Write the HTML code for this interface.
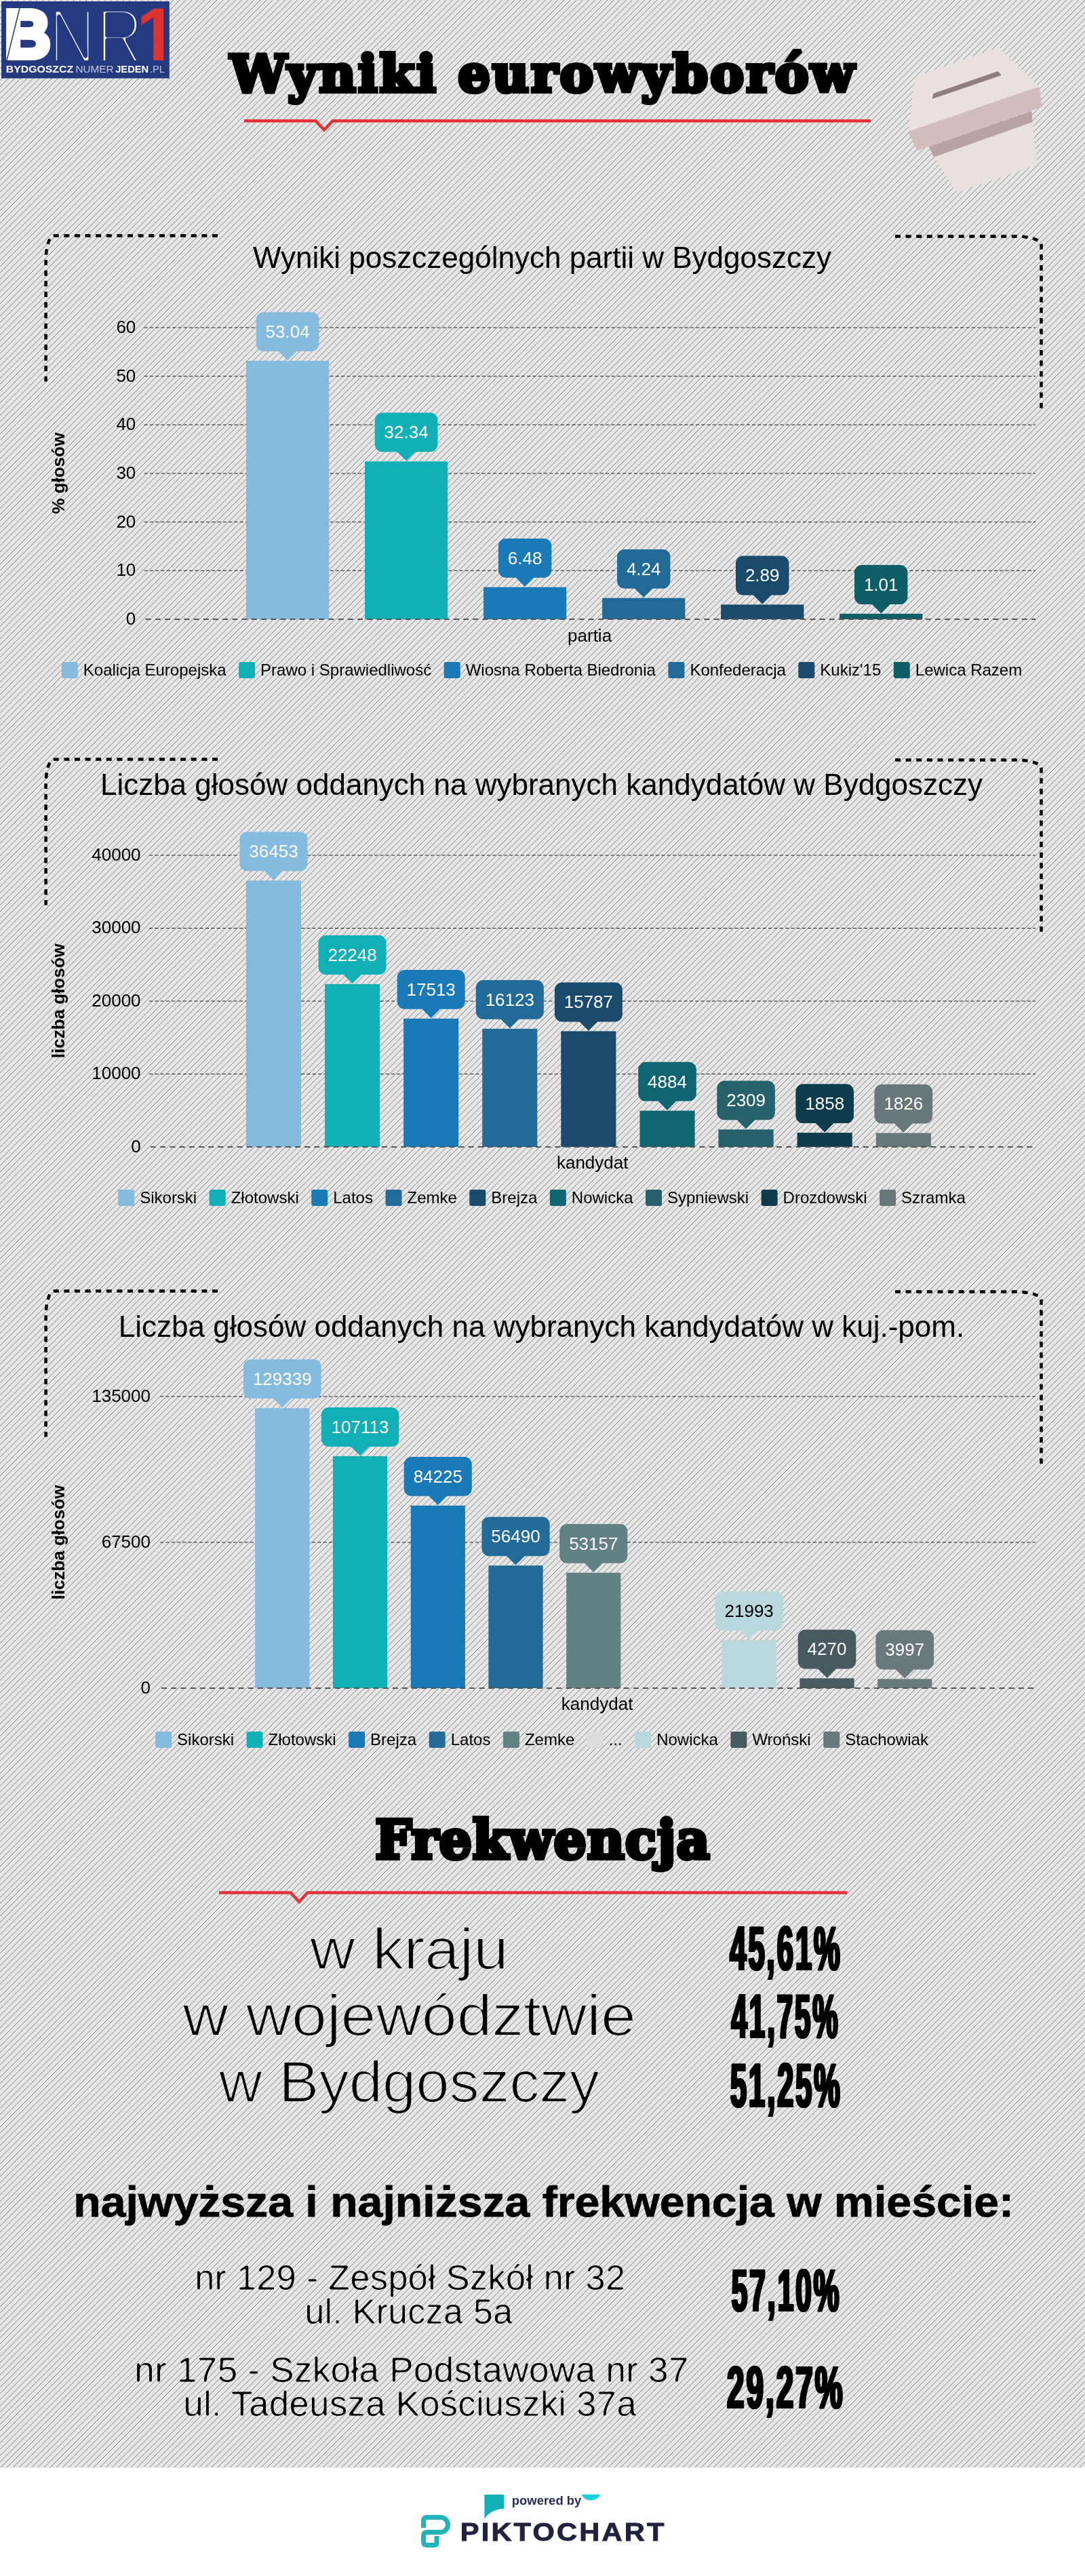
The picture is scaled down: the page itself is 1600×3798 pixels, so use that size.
<!DOCTYPE html>
<html lang="pl">
<head>
<meta charset="utf-8">
<title>Wyniki eurowyborów</title>
<style>
html,body{margin:0;padding:0;background:#fff;}
#page{position:relative;width:1600px;height:3798px;overflow:hidden;background:#e6e6e6;font-family:'Liberation Sans', sans-serif;}
svg{position:absolute;left:0;top:0;will-change:transform;}
svg text{font-family:'Liberation Sans', sans-serif;}
.slab{font-family:'DejaVu Serif', 'Liberation Serif', serif;font-weight:bold;}
.br{fill:none;stroke:#000;stroke-width:4.5;stroke-dasharray:8 7.62;}
.gl{fill:none;stroke:#222;stroke-width:1;stroke-dasharray:5.2 3.1;}
.zl{fill:none;stroke:#555;stroke-width:2;stroke-dasharray:8 6.2;}
</style>
</head>
<body>
<div id="page">
<svg width="1600" height="3798" viewBox="0 0 1600 3798">
<defs>
<pattern id="stripes" width="64" height="64" patternUnits="userSpaceOnUse">
<rect width="64" height="64" fill="#e6e6e6"/>
<path d="M2.000,-2 L-2,2.000 M11.143,-2 L-2,11.143 M20.286,-2 L-2,20.286 M29.429,-2 L-2,29.429 M38.571,-2 L-2,38.571 M47.714,-2 L-2,47.714 M56.857,-2 L-2,56.857 M66.000,-2 L-2,66.000 M75.143,-2 L-2,75.143 M84.286,-2 L-2,84.286 M93.429,-2 L-2,93.429 M102.571,-2 L-2,102.571 M111.714,-2 L-2,111.714 M120.857,-2 L-2,120.857 M130.000,-2 L-2,130.000" stroke="#505050" stroke-width="0.68" fill="none"/>
</pattern>
<filter id="fat" x="-5%" y="-5%" width="110%" height="110%">
<feOffset in="SourceGraphic" dx="-1.25" dy="0" result="a"/>
<feOffset in="SourceGraphic" dx="1.25" dy="0" result="b"/>
<feMerge><feMergeNode in="a"/><feMergeNode in="b"/><feMergeNode in="SourceGraphic"/></feMerge>
</filter>
<filter id="thin" x="-2%" y="-10%" width="104%" height="120%"><feMorphology operator="erode" radius="1"/></filter>
<filter id="t3" x="-2%" y="-10%" width="104%" height="120%"><feGaussianBlur stdDeviation="0.9"/><feComponentTransfer><feFuncA type="linear" slope="4" intercept="-2.1"/></feComponentTransfer></filter>
<clipPath id="oneclip"><polygon points="200,0 241.3,0 241.3,120 226.2,120 226.2,60 200,60"/></clipPath>
</defs>
<rect width="1600" height="3638" fill="url(#stripes)"/>
<rect y="3638" width="1600" height="160" fill="#fff"/>

<!-- logo -->
<g id="logo">
<rect x="2" y="2" width="247.8" height="113.5" fill="#24397f"/>
<text transform="translate(6.6,85.3) scale(0.945,1)" font-size="100" font-weight="bold" fill="#fff" stroke="#fff" stroke-width="8" stroke-linejoin="miter">B</text>
<path d="M30.5,6 L9.5,91" stroke="#24397f" stroke-width="1.5" fill="none"/>
<text x="71.5" y="93.2" font-size="114.5" fill="#fff" stroke="#24397f" stroke-width="7.8" stroke-linejoin="round" textLength="140" lengthAdjust="spacingAndGlyphs">NR</text>
<g clip-path="url(#oneclip)"><text transform="translate(201.1,89.4) scale(0.966,1)" font-size="112" font-weight="bold" fill="#de3431">1</text></g>
<text y="106.6" font-size="15" fill="#fff"><tspan x="8.7" font-weight="bold" textLength="99.5" lengthAdjust="spacingAndGlyphs">BYDGOSZCZ</tspan><tspan x="111.5" fill="#c3cae6" textLength="56" lengthAdjust="spacingAndGlyphs">NUMER</tspan><tspan x="170.2" font-weight="bold" textLength="49" lengthAdjust="spacingAndGlyphs">JEDEN</tspan><tspan x="221" fill="#c3cae6" textLength="22" lengthAdjust="spacingAndGlyphs">.PL</tspan></text>
</g>
<!-- title -->
<text x="339.4" y="135.0" class="slab" font-size="74" stroke="#000" stroke-width="6.2" stroke-linejoin="miter" stroke-miterlimit="2.5" letter-spacing="3.5">Wyniki eurowyborów</text>
<path d="M360,178.2 H465.5 L478,191.6 L490.5,178.2 H1284" fill="none" stroke="#e03237" stroke-width="4.4" stroke-linejoin="miter"/>
<!-- ballot box -->
<g id="ballot">
<polygon points="1349.8,113 1472.4,69.7 1532.3,127.7 1338.7,194.3" fill="#eae0e0"/>
<polygon points="1338.7,194.3 1532.3,127.7 1536.9,157.4 1352.9,221.9" fill="#d3bcbc"/>
<polygon points="1369.7,216.3 1521.4,163.4 1522.5,180.6 1377.4,232.3" fill="#b8a2a4"/>
<polygon points="1377.4,231.5 1522.5,180 1529.7,242.6 1411,283.9" fill="#eae0e0"/>
<polygon points="1376.1,138.1 1471.6,105 1476.8,111 1374.8,145.8" fill="#8f7d80"/>
</g>

<!--CHARTS-->
<path class="br" d="M321,347.4 H79.4 A11.8,37 0 0 0 67.6,384.4 V562.4"/>
<path class="br" d="M1320,348.5 H1498.5 A37,12 0 0 1 1535.5,360.5 V601.8"/>
<text x="799.5" y="395" font-size="44" text-anchor="middle">Wyniki poszczególnych partii w Bydgoszczy</text>
<path class="gl" d="M212.6,841.3 H1527"/>
<path class="gl" d="M212.6,769.7 H1527"/>
<path class="gl" d="M212.6,698.0 H1527"/>
<path class="gl" d="M212.6,626.3 H1527"/>
<path class="gl" d="M212.6,554.7 H1527"/>
<path class="gl" d="M212.6,483.0 H1527"/>
<text x="200.3" y="920.8" font-size="26" text-anchor="end">0</text>
<text x="200.3" y="849.1" font-size="26" text-anchor="end">10</text>
<text x="200.3" y="777.5" font-size="26" text-anchor="end">20</text>
<text x="200.3" y="705.8" font-size="26" text-anchor="end">30</text>
<text x="200.3" y="634.1" font-size="26" text-anchor="end">40</text>
<text x="200.3" y="562.5" font-size="26" text-anchor="end">50</text>
<text x="200.3" y="490.8" font-size="26" text-anchor="end">60</text>
<rect x="363.0" y="532.0" width="122.2" height="381.0" fill="#85bbdf"/>
<rect x="538.0" y="680.3" width="122.2" height="232.7" fill="#11b0b7"/>
<rect x="713.0" y="865.7" width="122.2" height="47.3" fill="#1a7ab8"/>
<rect x="888.1" y="881.7" width="122.2" height="31.3" fill="#226a97"/>
<rect x="1063.1" y="891.4" width="122.2" height="21.6" fill="#1a4a6c"/>
<rect x="1238.1" y="904.9" width="122.2" height="8.1" fill="#0e5e68"/>
<path class="zl" d="M214.6,913.0 H1527"/>
<path fill="#85bbdf" d="M388.7,460.2 H459.5 A11,11 0 0 1 470.5,471.2 V507.0 A11,11 0 0 1 459.5,518.0 H437.4 L424.1,531.3 L410.8,518.0 H388.7 A11,11 0 0 1 377.7,507.0 V471.2 A11,11 0 0 1 388.7,460.2 Z"/>
<text x="424.1" y="497.9" font-size="26" text-anchor="middle" fill="#fff">53.04</text>
<path fill="#11b0b7" d="M563.7,608.5 H634.5 A11,11 0 0 1 645.5,619.5 V655.3 A11,11 0 0 1 634.5,666.3 H612.4 L599.1,679.6 L585.8,666.3 H563.7 A11,11 0 0 1 552.7,655.3 V619.5 A11,11 0 0 1 563.7,608.5 Z"/>
<text x="599.1" y="646.2" font-size="26" text-anchor="middle" fill="#fff">32.34</text>
<path fill="#1a7ab8" d="M745.9,793.9 H802.3 A11,11 0 0 1 813.3,804.9 V840.7 A11,11 0 0 1 802.3,851.7 H787.4 L774.1,865.0 L760.8,851.7 H745.9 A11,11 0 0 1 734.9,840.7 V804.9 A11,11 0 0 1 745.9,793.9 Z"/>
<text x="774.1" y="831.6" font-size="26" text-anchor="middle" fill="#fff">6.48</text>
<path fill="#226a97" d="M921.0,809.9 H977.4 A11,11 0 0 1 988.4,820.9 V856.7 A11,11 0 0 1 977.4,867.7 H962.5 L949.2,881.0 L935.9,867.7 H921.0 A11,11 0 0 1 910.0,856.7 V820.9 A11,11 0 0 1 921.0,809.9 Z"/>
<text x="949.2" y="847.6" font-size="26" text-anchor="middle" fill="#fff">4.24</text>
<path fill="#1a4a6c" d="M1096.0,819.6 H1152.4 A11,11 0 0 1 1163.4,830.6 V866.4 A11,11 0 0 1 1152.4,877.4 H1137.5 L1124.2,890.7 L1110.9,877.4 H1096.0 A11,11 0 0 1 1085.0,866.4 V830.6 A11,11 0 0 1 1096.0,819.6 Z"/>
<text x="1124.2" y="857.3" font-size="26" text-anchor="middle" fill="#fff">2.89</text>
<path fill="#0e5e68" d="M1271.0,833.1 H1327.4 A11,11 0 0 1 1338.4,844.1 V879.9 A11,11 0 0 1 1327.4,890.9 H1312.5 L1299.2,904.2 L1285.9,890.9 H1271.0 A11,11 0 0 1 1260.0,879.9 V844.1 A11,11 0 0 1 1271.0,833.1 Z"/>
<text x="1299.2" y="870.8" font-size="26" text-anchor="middle" fill="#fff">1.01</text>
<text transform="translate(94.6,697.8) rotate(-90)" font-size="26" font-weight="bold" text-anchor="middle">% głosów</text>
<text x="869.6" y="945.5" font-size="26" text-anchor="middle">partia</text>
<rect x="90.8" y="976" width="24" height="24" rx="3" fill="#85bbdf"/>
<text x="122.8" y="995.9" font-size="24">Koalicja Europejska</text>
<rect x="352.1" y="976" width="24" height="24" rx="3" fill="#11b0b7"/>
<text x="384.1" y="995.9" font-size="24">Prawo i Sprawiedliwość</text>
<rect x="654.7" y="976" width="24" height="24" rx="3" fill="#1a7ab8"/>
<text x="686.7" y="995.9" font-size="24">Wiosna Roberta Biedronia</text>
<rect x="985.4" y="976" width="24" height="24" rx="3" fill="#226a97"/>
<text x="1017.4" y="995.9" font-size="24">Konfederacja</text>
<rect x="1177.3" y="976" width="24" height="24" rx="3" fill="#1a4a6c"/>
<text x="1209.3" y="995.9" font-size="24">Kukiz'15</text>
<rect x="1317.8" y="976" width="24" height="24" rx="3" fill="#0e5e68"/>
<text x="1349.8" y="995.9" font-size="24">Lewica Razem</text>
<path class="br" d="M321,1119.4 H79.4 A11.8,37 0 0 0 67.6,1156.4 V1334.4"/>
<path class="br" d="M1320,1120.5 H1498.5 A37,12 0 0 1 1535.5,1132.5 V1373.8"/>
<text x="798.5" y="1172" font-size="44" text-anchor="middle">Liczba głosów oddanych na wybranych kandydatów w Bydgoszczy</text>
<path class="gl" d="M220,1583.5 H1527"/>
<path class="gl" d="M220,1476.0 H1527"/>
<path class="gl" d="M220,1368.5 H1527"/>
<path class="gl" d="M220,1261.0 H1527"/>
<text x="207.6" y="1698.8" font-size="26" text-anchor="end">0</text>
<text x="207.6" y="1591.3" font-size="26" text-anchor="end">10000</text>
<text x="207.6" y="1483.8" font-size="26" text-anchor="end">20000</text>
<text x="207.6" y="1376.3" font-size="26" text-anchor="end">30000</text>
<text x="207.6" y="1268.8" font-size="26" text-anchor="end">40000</text>
<rect x="362.9" y="1298.2" width="81.1" height="392.8" fill="#85bbdf"/>
<rect x="479.0" y="1450.9" width="81.1" height="240.1" fill="#11b0b7"/>
<rect x="595.1" y="1501.8" width="81.1" height="189.2" fill="#1a7ab8"/>
<rect x="711.2" y="1516.8" width="81.1" height="174.2" fill="#226a97"/>
<rect x="827.3" y="1520.4" width="81.1" height="170.6" fill="#1a4a6c"/>
<rect x="943.5" y="1637.6" width="81.1" height="53.4" fill="#0f6672"/>
<rect x="1059.5" y="1665.3" width="81.1" height="25.7" fill="#26616c"/>
<rect x="1175.6" y="1670.1" width="81.1" height="20.9" fill="#0e3c4c"/>
<rect x="1291.8" y="1670.5" width="81.1" height="20.5" fill="#68777a"/>
<path class="zl" d="M222,1691.0 H1527"/>
<path fill="#85bbdf" d="M364.5,1226.4 H442.5 A11,11 0 0 1 453.5,1237.4 V1273.2 A11,11 0 0 1 442.5,1284.2 H416.8 L403.5,1297.5 L390.2,1284.2 H364.5 A11,11 0 0 1 353.5,1273.2 V1237.4 A11,11 0 0 1 364.5,1226.4 Z"/>
<text x="403.5" y="1264.1" font-size="26" text-anchor="middle" fill="#fff">36453</text>
<path fill="#11b0b7" d="M480.6,1379.1 H558.6 A11,11 0 0 1 569.6,1390.1 V1425.9 A11,11 0 0 1 558.6,1436.9 H532.9 L519.6,1450.2 L506.3,1436.9 H480.6 A11,11 0 0 1 469.6,1425.9 V1390.1 A11,11 0 0 1 480.6,1379.1 Z"/>
<text x="519.6" y="1416.8" font-size="26" text-anchor="middle" fill="#fff">22248</text>
<path fill="#1a7ab8" d="M596.7,1430.0 H674.7 A11,11 0 0 1 685.7,1441.0 V1476.8 A11,11 0 0 1 674.7,1487.8 H649.0 L635.7,1501.1 L622.4,1487.8 H596.7 A11,11 0 0 1 585.7,1476.8 V1441.0 A11,11 0 0 1 596.7,1430.0 Z"/>
<text x="635.7" y="1467.7" font-size="26" text-anchor="middle" fill="#fff">17513</text>
<path fill="#226a97" d="M712.8,1445.0 H790.8 A11,11 0 0 1 801.8,1456.0 V1491.8 A11,11 0 0 1 790.8,1502.8 H765.1 L751.8,1516.1 L738.5,1502.8 H712.8 A11,11 0 0 1 701.8,1491.8 V1456.0 A11,11 0 0 1 712.8,1445.0 Z"/>
<text x="751.8" y="1482.7" font-size="26" text-anchor="middle" fill="#fff">16123</text>
<path fill="#1a4a6c" d="M828.9,1448.6 H906.9 A11,11 0 0 1 917.9,1459.6 V1495.4 A11,11 0 0 1 906.9,1506.4 H881.2 L867.9,1519.7 L854.6,1506.4 H828.9 A11,11 0 0 1 817.9,1495.4 V1459.6 A11,11 0 0 1 828.9,1448.6 Z"/>
<text x="867.9" y="1486.3" font-size="26" text-anchor="middle" fill="#fff">15787</text>
<path fill="#0f6672" d="M952.2,1565.8 H1015.8 A11,11 0 0 1 1026.8,1576.8 V1612.6 A11,11 0 0 1 1015.8,1623.6 H997.3 L984.0,1636.9 L970.7,1623.6 H952.2 A11,11 0 0 1 941.2,1612.6 V1576.8 A11,11 0 0 1 952.2,1565.8 Z"/>
<text x="984.0" y="1603.5" font-size="26" text-anchor="middle" fill="#fff">4884</text>
<path fill="#26616c" d="M1068.3,1593.5 H1131.9 A11,11 0 0 1 1142.9,1604.5 V1640.3 A11,11 0 0 1 1131.9,1651.3 H1113.4 L1100.1,1664.6 L1086.8,1651.3 H1068.3 A11,11 0 0 1 1057.3,1640.3 V1604.5 A11,11 0 0 1 1068.3,1593.5 Z"/>
<text x="1100.1" y="1631.2" font-size="26" text-anchor="middle" fill="#fff">2309</text>
<path fill="#0e3c4c" d="M1184.4,1598.3 H1248.0 A11,11 0 0 1 1259.0,1609.3 V1645.1 A11,11 0 0 1 1248.0,1656.1 H1229.5 L1216.2,1669.4 L1202.9,1656.1 H1184.4 A11,11 0 0 1 1173.4,1645.1 V1609.3 A11,11 0 0 1 1184.4,1598.3 Z"/>
<text x="1216.2" y="1636.0" font-size="26" text-anchor="middle" fill="#fff">1858</text>
<path fill="#68777a" d="M1300.5,1598.7 H1364.1 A11,11 0 0 1 1375.1,1609.7 V1645.5 A11,11 0 0 1 1364.1,1656.5 H1345.6 L1332.3,1669.8 L1319.0,1656.5 H1300.5 A11,11 0 0 1 1289.5,1645.5 V1609.7 A11,11 0 0 1 1300.5,1598.7 Z"/>
<text x="1332.3" y="1636.4" font-size="26" text-anchor="middle" fill="#fff">1826</text>
<text transform="translate(94.6,1475.7) rotate(-90)" font-size="26" font-weight="bold" text-anchor="middle">liczba głosów</text>
<text x="873.7" y="1723.2" font-size="26" text-anchor="middle">kandydat</text>
<rect x="174.2" y="1754" width="24" height="24" rx="3" fill="#85bbdf"/>
<text x="206.2" y="1773.9" font-size="24">Sikorski</text>
<rect x="308.7" y="1754" width="24" height="24" rx="3" fill="#11b0b7"/>
<text x="340.7" y="1773.9" font-size="24">Złotowski</text>
<rect x="459.2" y="1754" width="24" height="24" rx="3" fill="#1a7ab8"/>
<text x="491.2" y="1773.9" font-size="24">Latos</text>
<rect x="568.5" y="1754" width="24" height="24" rx="3" fill="#226a97"/>
<text x="600.5" y="1773.9" font-size="24">Zemke</text>
<rect x="692.3" y="1754" width="24" height="24" rx="3" fill="#1a4a6c"/>
<text x="724.3" y="1773.9" font-size="24">Brejza</text>
<rect x="810.8" y="1754" width="24" height="24" rx="3" fill="#0f6672"/>
<text x="842.8" y="1773.9" font-size="24">Nowicka</text>
<rect x="952.0" y="1754" width="24" height="24" rx="3" fill="#26616c"/>
<text x="984.0" y="1773.9" font-size="24">Sypniewski</text>
<rect x="1122.6" y="1754" width="24" height="24" rx="3" fill="#0e3c4c"/>
<text x="1154.6" y="1773.9" font-size="24">Drozdowski</text>
<rect x="1297.1" y="1754" width="24" height="24" rx="3" fill="#68777a"/>
<text x="1329.1" y="1773.9" font-size="24">Szramka</text>
<path class="br" d="M321,1903.5 H79.4 A11.8,37 0 0 0 67.6,1940.5 V2118.5"/>
<path class="br" d="M1320,1904.6 H1498.5 A37,12 0 0 1 1535.5,1916.6 V2157.9"/>
<text x="798.5" y="1971" font-size="44" text-anchor="middle">Liczba głosów oddanych na wybranych kandydatów w kuj.-pom.</text>
<path class="gl" d="M236,2274.0 H1527"/>
<path class="gl" d="M236,2059.0 H1527"/>
<text x="222" y="2496.8" font-size="26" text-anchor="end">0</text>
<text x="222" y="2281.8" font-size="26" text-anchor="end">67500</text>
<text x="222" y="2066.8" font-size="26" text-anchor="end">135000</text>
<rect x="376.2" y="2076.1" width="80.2" height="412.9" fill="#85bbdf"/>
<rect x="490.9" y="2146.9" width="80.2" height="342.1" fill="#11b0b7"/>
<rect x="605.7" y="2219.8" width="80.2" height="269.2" fill="#1a7ab8"/>
<rect x="720.4" y="2308.2" width="80.2" height="180.8" fill="#226a97"/>
<rect x="835.2" y="2318.8" width="80.2" height="170.2" fill="#628185"/>
<rect x="1064.6" y="2418.0" width="80.2" height="71.0" fill="#b9d7dd"/>
<rect x="1179.4" y="2474.5" width="80.2" height="14.5" fill="#475a60"/>
<rect x="1294.1" y="2475.4" width="80.2" height="13.6" fill="#6a797c"/>
<path class="zl" d="M238,2489.0 H1527"/>
<path fill="#85bbdf" d="M370.0,2004.3 H462.6 A11,11 0 0 1 473.6,2015.3 V2051.1 A11,11 0 0 1 462.6,2062.1 H429.6 L416.3,2075.4 L403.0,2062.1 H370.0 A11,11 0 0 1 359.0,2051.1 V2015.3 A11,11 0 0 1 370.0,2004.3 Z"/>
<text x="416.3" y="2042.0" font-size="26" text-anchor="middle" fill="#fff">129339</text>
<path fill="#11b0b7" d="M484.8,2075.1 H577.3 A11,11 0 0 1 588.3,2086.1 V2121.9 A11,11 0 0 1 577.3,2132.9 H544.3 L531.0,2146.2 L517.7,2132.9 H484.8 A11,11 0 0 1 473.8,2121.9 V2086.1 A11,11 0 0 1 484.8,2075.1 Z"/>
<text x="531.0" y="2112.8" font-size="26" text-anchor="middle" fill="#fff">107113</text>
<path fill="#1a7ab8" d="M606.7,2148.0 H684.8 A11,11 0 0 1 695.8,2159.0 V2194.8 A11,11 0 0 1 684.8,2205.8 H659.1 L645.8,2219.1 L632.5,2205.8 H606.7 A11,11 0 0 1 595.7,2194.8 V2159.0 A11,11 0 0 1 606.7,2148.0 Z"/>
<text x="645.8" y="2185.7" font-size="26" text-anchor="middle" fill="#fff">84225</text>
<path fill="#226a97" d="M721.5,2236.4 H799.6 A11,11 0 0 1 810.6,2247.4 V2283.2 A11,11 0 0 1 799.6,2294.2 H773.8 L760.5,2307.5 L747.2,2294.2 H721.5 A11,11 0 0 1 710.5,2283.2 V2247.4 A11,11 0 0 1 721.5,2236.4 Z"/>
<text x="760.5" y="2274.1" font-size="26" text-anchor="middle" fill="#fff">56490</text>
<path fill="#628185" d="M836.2,2247.0 H914.3 A11,11 0 0 1 925.3,2258.0 V2293.8 A11,11 0 0 1 914.3,2304.8 H888.6 L875.3,2318.1 L862.0,2304.8 H836.2 A11,11 0 0 1 825.2,2293.8 V2258.0 A11,11 0 0 1 836.2,2247.0 Z"/>
<text x="875.3" y="2284.7" font-size="26" text-anchor="middle" fill="#fff">53157</text>
<path fill="#b9d7dd" d="M1065.7,2346.2 H1143.8 A11,11 0 0 1 1154.8,2357.2 V2393.0 A11,11 0 0 1 1143.8,2404.0 H1118.0 L1104.7,2417.3 L1091.4,2404.0 H1065.7 A11,11 0 0 1 1054.7,2393.0 V2357.2 A11,11 0 0 1 1065.7,2346.2 Z"/>
<text x="1104.7" y="2383.9" font-size="26" text-anchor="middle" fill="#000">21993</text>
<path fill="#475a60" d="M1187.7,2402.7 H1251.3 A11,11 0 0 1 1262.3,2413.7 V2449.5 A11,11 0 0 1 1251.3,2460.5 H1232.8 L1219.5,2473.8 L1206.2,2460.5 H1187.7 A11,11 0 0 1 1176.7,2449.5 V2413.7 A11,11 0 0 1 1187.7,2402.7 Z"/>
<text x="1219.5" y="2440.4" font-size="26" text-anchor="middle" fill="#fff">4270</text>
<path fill="#6a797c" d="M1302.4,2403.6 H1366.0 A11,11 0 0 1 1377.0,2414.6 V2450.4 A11,11 0 0 1 1366.0,2461.4 H1347.5 L1334.2,2474.7 L1320.9,2461.4 H1302.4 A11,11 0 0 1 1291.4,2450.4 V2414.6 A11,11 0 0 1 1302.4,2403.6 Z"/>
<text x="1334.2" y="2441.3" font-size="26" text-anchor="middle" fill="#fff">3997</text>
<text transform="translate(94.6,2274) rotate(-90)" font-size="26" font-weight="bold" text-anchor="middle">liczba głosów</text>
<text x="880.6" y="2521.4" font-size="26" text-anchor="middle">kandydat</text>
<rect x="229.1" y="2553" width="24" height="24" rx="3" fill="#85bbdf"/>
<text x="261.1" y="2572.9" font-size="24">Sikorski</text>
<rect x="363.6" y="2553" width="24" height="24" rx="3" fill="#11b0b7"/>
<text x="395.6" y="2572.9" font-size="24">Złotowski</text>
<rect x="514.1" y="2553" width="24" height="24" rx="3" fill="#1a7ab8"/>
<text x="546.1" y="2572.9" font-size="24">Brejza</text>
<rect x="632.7" y="2553" width="24" height="24" rx="3" fill="#226a97"/>
<text x="664.7" y="2572.9" font-size="24">Latos</text>
<rect x="741.9" y="2553" width="24" height="24" rx="3" fill="#628185"/>
<text x="773.9" y="2572.9" font-size="24">Zemke</text>
<rect x="865.7" y="2553" width="24" height="24" rx="3" fill="#dcdcdc"/>
<text x="897.7" y="2572.9" font-size="24">...</text>
<rect x="936.2" y="2553" width="24" height="24" rx="3" fill="#b9d7dd"/>
<text x="968.2" y="2572.9" font-size="24">Nowicka</text>
<rect x="1077.4" y="2553" width="24" height="24" rx="3" fill="#475a60"/>
<text x="1109.4" y="2572.9" font-size="24">Wroński</text>
<rect x="1214.2" y="2553" width="24" height="24" rx="3" fill="#6a797c"/>
<text x="1246.2" y="2572.9" font-size="24">Stachowiak</text>

<text transform="translate(553.4,2739.9) scale(0.957,1)" class="slab" font-size="78.5" stroke="#000" stroke-width="6.2" stroke-linejoin="miter" stroke-miterlimit="2.5" letter-spacing="1.5">Frekwencja</text>
<path d="M323,2790.5 H428.5 L441,2803.9 L453.5,2790.5 H1249.3" fill="none" stroke="#e03237" stroke-width="4.4" stroke-linejoin="miter"/>
<g filter="url(#thin)"><text x="456.9" y="2902.6" font-size="85" font-weight="normal" textLength="292.8" lengthAdjust="spacingAndGlyphs">w kraju</text></g>
<g filter="url(#thin)"><text x="269.5" y="3000.7" font-size="85" font-weight="normal" textLength="668.4" lengthAdjust="spacingAndGlyphs">w województwie</text></g>
<g filter="url(#thin)"><text x="322.7" y="3098.8" font-size="85" font-weight="normal" textLength="561.5" lengthAdjust="spacingAndGlyphs">w Bydgoszczy</text></g>
<g filter="url(#fat)"><text transform="translate(1076.23,2904.2) scale(0.4781,1)" font-size="91" font-weight="bold" letter-spacing="6.27" stroke="#000" stroke-width="2.0">45,61%</text></g>
<g filter="url(#fat)"><text transform="translate(1078.53,3004.3) scale(0.4605,1)" font-size="91" font-weight="bold" letter-spacing="6.51" stroke="#000" stroke-width="2.0">41,75%</text></g>
<g filter="url(#fat)"><text transform="translate(1077.04,3106) scale(0.4755,1)" font-size="91" font-weight="bold" letter-spacing="6.31" stroke="#000" stroke-width="2.0">51,25%</text></g>
<text stroke="#000" stroke-width="0.8" x="108.3" y="3267.6" font-size="63.5" font-weight="bold" textLength="1386.7" lengthAdjust="spacingAndGlyphs">najwyższa i najniższa frekwencja w mieście:</text>
<g filter="url(#t3)"><text x="286.9" y="3375.6" font-size="51" font-weight="normal" textLength="635.3" lengthAdjust="spacingAndGlyphs">nr 129 - Zespół Szkół nr 32</text></g>
<g filter="url(#t3)"><text x="449.2" y="3426.1" font-size="51" font-weight="normal" textLength="307.1" lengthAdjust="spacingAndGlyphs">ul. Krucza 5a</text></g>
<g filter="url(#t3)"><text x="198.1" y="3511.8" font-size="51" font-weight="normal" textLength="817.4" lengthAdjust="spacingAndGlyphs">nr 175 - Szkoła Podstawowa nr 37</text></g>
<g filter="url(#t3)"><text x="270.3" y="3561.6" font-size="51" font-weight="normal" textLength="668.6" lengthAdjust="spacingAndGlyphs">ul. Tadeusza Kościuszki 37a</text></g>
<g filter="url(#fat)"><text transform="translate(1078.77,3406.7) scale(0.4811,1)" font-size="88" font-weight="bold" letter-spacing="6.24" stroke="#000" stroke-width="2.0">57,10%</text></g>
<g filter="url(#fat)"><text transform="translate(1072.11,3550.2) scale(0.5210,1)" font-size="88" font-weight="bold" letter-spacing="5.76" stroke="#000" stroke-width="2.0">29,27%</text></g>


<g id="pikto">
<path d="M624.5,3727 V3716.5 Q624.5,3711.5 629.5,3711.5 H649.5 A11,11 0 0 1 649.5,3733.5 H630 Q624.5,3733.5 624.5,3739 V3747.5 Q624.5,3752.5 629.5,3752.5 H640 Q644,3752.5 644,3748.5 V3739" fill="none" stroke="#20b4b9" stroke-width="7"/>
<path d="M620,3731.5 L629.5,3727" stroke="#fff" stroke-width="1.6" fill="none"/>
<path d="M714.4,3678 H743 V3698.8 Q722,3700.5 714.4,3714 Z" fill="#10b0b7"/>
<path d="M857,3677.7 H885.7 Q880,3686.5 871,3686.5 Q862,3686.5 857,3677.7 Z" fill="#19d3dc"/>
<text x="754.8" y="3693.2" font-size="19" font-weight="bold" fill="#2a2b55" textLength="102.5" lengthAdjust="spacingAndGlyphs">powered by</text>
<text transform="translate(678.7,3745.5) scale(1.14,1)" font-size="36.5" font-weight="bold" fill="#23213f" stroke="#23213f" stroke-width="0.9" letter-spacing="2.8">PIKTOCHART</text>
</g>

</svg>
</div>
</body>
</html>
